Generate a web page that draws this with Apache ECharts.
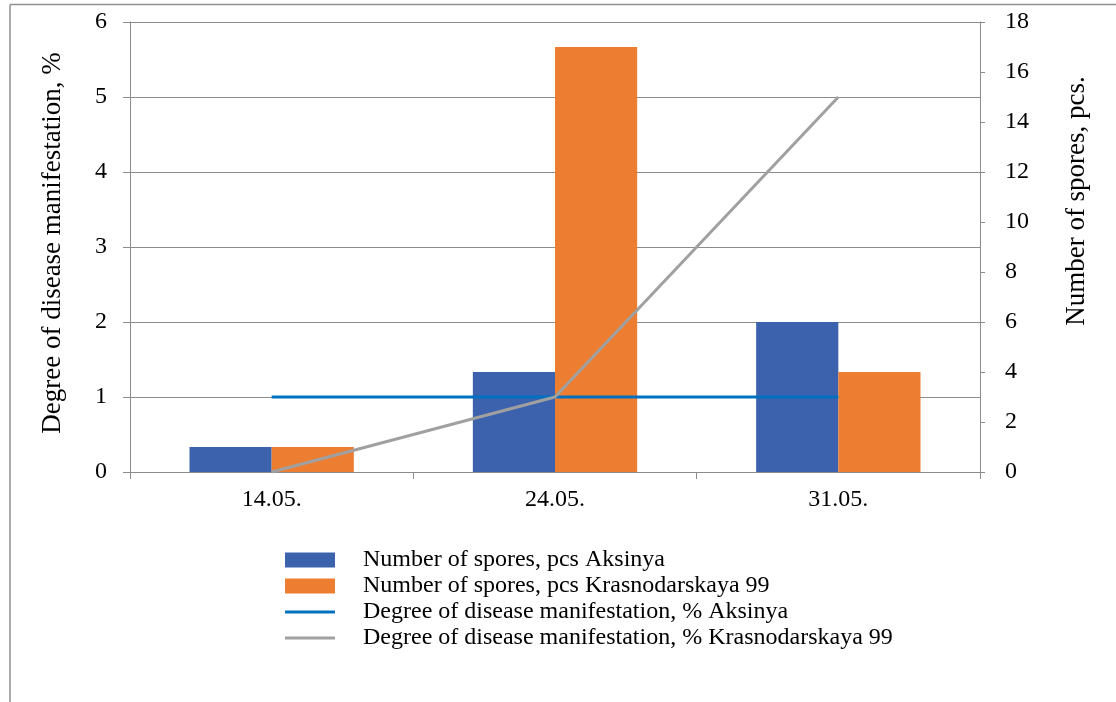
<!DOCTYPE html>
<html><head><meta charset="utf-8">
<script src="https://cdn.jsdelivr.net/npm/echarts@6/dist/echarts.min.js"></script>
<style>html,body{margin:0;padding:0;background:#fff}#c{width:1116px;height:702px}</style>
</head><body><div id="c"></div>
<script>
const categories = ['14.05.', '24.05.', '31.05.'];
const sporesAksinya = [1, 4, 6];
const sporesKrasnodarskaya = [1, 17, 4];
const degreeAksinya = [1, 1, 1];
const degreeKrasnodarskaya = [0, 1, 5];
const leftTicks = {min: 0, max: 6, interval: 1};
const rightTicks = {min: 0, max: 18, interval: 2};

const font = '"Liberation Serif", "Times New Roman", serif';
const axisGray = '#8c8c8c';
const lineIcon = 'path://M0,0 L50,0 L50,3 L0,3 Z';
const chart = echarts.init(document.getElementById('c'), null, {renderer: 'canvas'});
chart.setOption({
  animation: false,
  backgroundColor: '#fff',
  textStyle: {fontFamily: font, color: '#000'},
  graphic: [
    {type: 'line', shape: {x1: 10, y1: 4.5, x2: 1116, y2: 4.5}, style: {stroke: '#909090', lineWidth: 1.5}, silent: true},
    {type: 'line', shape: {x1: 10, y1: 4.5, x2: 10, y2: 702}, style: {stroke: '#909090', lineWidth: 1.5}, silent: true}
  ],
  grid: {left: 130, right: 136, top: 22, bottom: 230, containLabel: false},
  legend: {
    orient: 'vertical', left: 280, top: 543, itemWidth: 50, itemHeight: 15, itemGap: 2,
    symbolKeepAspect: true,
    textStyle: {fontFamily: font, fontSize: 24, color: '#000', lineHeight: 24, padding: [0, 0, 0, 23]},
    data: [
      {name: 'Number of spores, pcs Aksinya', icon: 'rect'},
      {name: 'Number of spores, pcs Krasnodarskaya 99', icon: 'rect'},
      {name: 'Degree of disease manifestation, % Aksinya', icon: lineIcon},
      {name: 'Degree of disease manifestation, % Krasnodarskaya 99', icon: lineIcon}
    ]
  },
  xAxis: {
    type: 'category', data: categories,
    axisLine: {lineStyle: {color: axisGray}},
    axisTick: {show: true, length: 7, lineStyle: {color: axisGray}},
    axisLabel: {fontFamily: font, fontSize: 24, color: '#000', margin: 16}
  },
  yAxis: [
    {
      type: 'value', position: 'left', min: leftTicks.min, max: leftTicks.max, interval: leftTicks.interval,
      name: 'Degree of disease manifestation, %', nameLocation: 'middle', nameGap: 64, nameRotate: 90,
      nameTextStyle: {fontFamily: font, fontSize: 27, color: '#000', padding: [0, 0, 0, 8]},
      axisLine: {show: true, lineStyle: {color: axisGray}},
      axisTick: {show: true, length: 7, lineStyle: {color: axisGray}},
      axisLabel: {fontFamily: font, fontSize: 24, color: '#000', margin: 23},
      splitLine: {show: true, lineStyle: {color: axisGray, width: 1}}
    },
    {
      type: 'value', position: 'right', min: rightTicks.min, max: rightTicks.max, interval: rightTicks.interval,
      name: 'Number of spores, pcs.', nameLocation: 'middle', nameGap: 83, nameRotate: 90,
      nameTextStyle: {fontFamily: font, fontSize: 27, color: '#000', padding: [0, 0, 0, 92]},
      axisLine: {show: true, lineStyle: {color: axisGray}},
      axisTick: {show: true, length: 5, lineStyle: {color: axisGray}},
      axisLabel: {fontFamily: font, fontSize: 24, color: '#000', margin: 25},
      splitLine: {show: false}
    }
  ],
  series: [
    {name: 'Number of spores, pcs Aksinya', type: 'bar', yAxisIndex: 1, data: sporesAksinya,
     itemStyle: {color: '#3D62AD'}, barGap: '0%', barCategoryGap: '42%'},
    {name: 'Number of spores, pcs Krasnodarskaya 99', type: 'bar', yAxisIndex: 1, data: sporesKrasnodarskaya,
     itemStyle: {color: '#ED7D31'}, barGap: '0%', barCategoryGap: '42%'},
    {name: 'Degree of disease manifestation, % Aksinya', type: 'line', yAxisIndex: 0, data: degreeAksinya,
     symbol: 'none', lineStyle: {color: '#0070C0', width: 3}, itemStyle: {color: '#0070C0'}},
    {name: 'Degree of disease manifestation, % Krasnodarskaya 99', type: 'line', yAxisIndex: 0, data: degreeKrasnodarskaya,
     symbol: 'none', lineStyle: {color: '#A0A0A0', width: 3}, itemStyle: {color: '#A0A0A0'}}
  ]
});
</script></body></html>
